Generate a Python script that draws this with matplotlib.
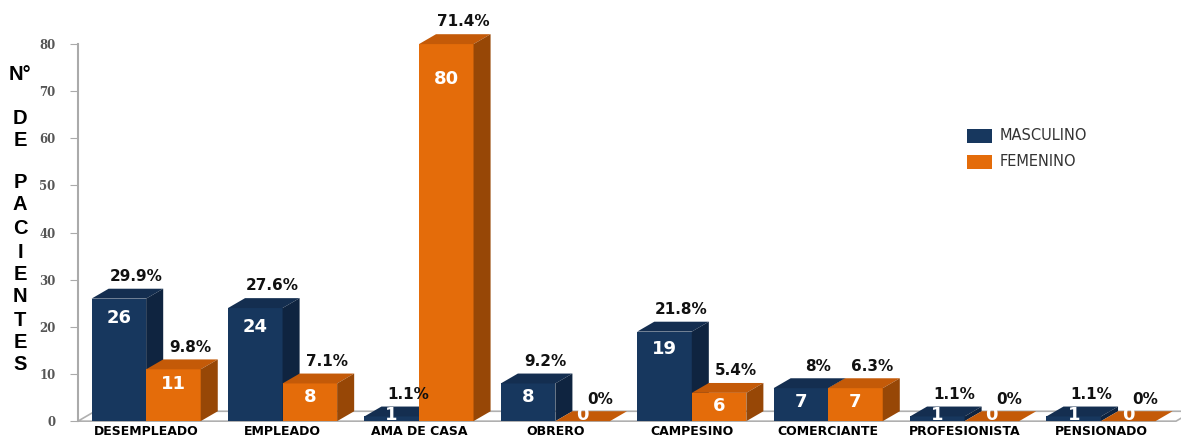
import matplotlib.pyplot as plt
from matplotlib.patches import Polygon

# Ocupación de los pacientes por sexo
categorias = ['DESEMPLEADO', 'EMPLEADO', 'AMA DE CASA', 'OBRERO',
              'CAMPESINO', 'COMERCIANTE', 'PROFESIONISTA', 'PENSIONADO']
masculino = [26, 24, 1, 8, 19, 7, 1, 1]
femenino = [11, 8, 80, 0, 6, 7, 0, 0]
pct_masculino = ['29.9%', '27.6%', '1.1%', '9.2%', '21.8%', '8%', '1.1%', '1.1%']
pct_femenino = ['9.8%', '7.1%', '71.4%', '0%', '5.4%', '6.3%', '0%', '0%']

AZUL = ('#17375E', '#142E50', '#0F2440')      # frente, tapa, lado
NARANJA = ('#E46C0A', '#C45A08', '#974706')

ancho = 0.4
dx, dy = 0.125, 2.1   # profundidad del efecto 3D

fig = plt.figure(figsize=(11.81, 4.41), dpi=100)
ax = fig.add_axes([0.066, 0.045, 0.924, 0.855])
ax.set_xlim(-0.5, 7.5)
ax.set_ylim(0, 80)


def barra3d(x0, h, colores):
    frente, tapa, lado = colores
    ax.add_patch(Polygon([(x0, 0), (x0 + ancho, 0), (x0 + ancho, h), (x0, h)],
                         closed=True, fc=frente, ec='none', zorder=3, clip_on=False))
    ax.add_patch(Polygon([(x0, h), (x0 + ancho, h), (x0 + ancho + dx, h + dy),
                          (x0 + dx, h + dy)],
                         closed=True, fc=tapa, ec='none', zorder=3, clip_on=False))
    ax.add_patch(Polygon([(x0 + ancho, 0), (x0 + ancho + dx, dy),
                          (x0 + ancho + dx, h + dy), (x0 + ancho, h)],
                         closed=True, fc=lado, ec='none', zorder=3, clip_on=False))


# piso
ax.add_patch(Polygon([(-0.5, 0), (7.55, 0), (7.55 + dx, dy), (-0.5 + dx, dy)],
                     closed=True, fc='white', ec='#B0B0B0', lw=1.2, zorder=1,
                     clip_on=False))

for i in range(len(categorias)):
    for x0, v, pct, col in [(i - ancho, masculino[i], pct_masculino[i], AZUL),
                            (i, femenino[i], pct_femenino[i], NARANJA)]:
        barra3d(x0, v, col)
        yv = max(v - (2.5 + 0.06 * v), 1.3)
        ax.text(x0 + ancho / 2, yv, str(v), ha='center', va='center',
                color='white', fontsize=13, fontweight='bold',
                family='DejaVu Sans', zorder=4, clip_on=True)
        ax.text(x0 + ancho / 2 + dx, v + dy + 2.6, pct, ha='center', va='center',
                color='#111111', fontsize=11, fontweight='bold',
                family='DejaVu Sans', zorder=4, clip_on=False)

ax.set_xticks(range(len(categorias)))
ax.set_xticklabels(categorias, fontsize=9, fontweight='bold',
                   family='DejaVu Sans')
ax.tick_params(axis='x', length=0, pad=3)

ax.set_yticks(range(0, 81, 10))
ax.set_yticklabels([str(t) for t in range(0, 81, 10)], fontsize=8.5,
                   fontweight='bold', family='DejaVu Serif', color='#555555')
ax.tick_params(axis='y', length=6, color='#AAAAAA', pad=10)

for s in ['top', 'right', 'bottom']:
    ax.spines[s].set_visible(False)
ax.spines['left'].set_color('#AAAAAA')
ax.spines['left'].set_linewidth(1.5)

# título del eje vertical, letra por letra
letras = [('N°', 75), ('D', 119), ('E', 141), ('P', 182), ('A', 205),
          ('C', 228), ('I', 252), ('E', 275), ('N', 297), ('T', 320),
          ('E', 342), ('S', 364)]
for letra, ypx in letras:
    fig.text(20 / 1181, 1 - ypx / 441, letra, ha='center', va='center',
             fontsize=14.5, fontweight='bold', family='Liberation Sans')

# leyenda
for nombre, col, ypx in [('MASCULINO', AZUL[0], 136), ('FEMENINO', NARANJA[0], 162)]:
    fig.patches.append(Polygon([(967 / 1181, 1 - (ypx - 7) / 441),
                                (992 / 1181, 1 - (ypx - 7) / 441),
                                (992 / 1181, 1 - (ypx + 7) / 441),
                                (967 / 1181, 1 - (ypx + 7) / 441)],
                               closed=True, fc=col, ec='none',
                               transform=fig.transFigure))
    fig.text(1000 / 1181, 1 - ypx / 441, nombre, ha='left', va='center',
             fontsize=10.5, color='#333333', family='DejaVu Sans')

fig.savefig('out.png', dpi=100)
